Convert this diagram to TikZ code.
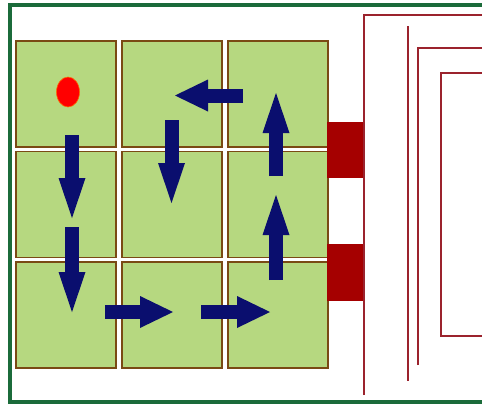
\documentclass[tikz,border=0pt]{standalone}
\usetikzlibrary{arrows.meta}
\definecolor{framegreen}{RGB}{27,107,58}
\definecolor{cellgreen}{RGB}{182,216,128}
\definecolor{cellbrown}{RGB}{122,74,20}
\definecolor{navy}{RGB}{10,14,110}
\definecolor{portred}{RGB}{165,0,0}
\definecolor{wirered}{RGB}{155,35,45}
\tikzset{>=latex}
\tikzset{
    varrow/.style={navy, line width=14pt, -{Triangle[length=40pt,width=27pt,line width=0pt]}},
    harrow/.style={navy, line width=14pt, -{Triangle[length=33pt,width=32pt,line width=0pt]}},
    wire/.style={wirered, line width=1.3pt}
}

\begin{document}
\begin{tikzpicture}[x=1pt,y=-1pt]
    \useasboundingbox (0,0) rectangle (482,405);

    \draw[framegreen, line width=4pt] (482,5) -- (10,5) -- (10,402) -- (482,402);

    
    \foreach \i in {0,1,2}
    {
        \foreach \j in {0,1,2}
        {
            \draw[fill=cellgreen, draw=cellbrown, line width=1.5pt] (16+106*\i,41+110.5*\j) rectangle ++(100,106);
        }
    }

    \draw[fill=red, draw=orange!80!red, line width=0.6pt] (68,92) ellipse [x radius=11.5, y radius=15];

    
    \draw[varrow] (72,135) -- (72,218);
    \draw[varrow] (72,227) -- (72,312);
    \draw[harrow] (105,312) -- (173,312);
    \draw[harrow] (201,312) -- (270,312);
    \draw[varrow] (276,280) -- (276,195);
    \draw[varrow] (276,176) -- (276,93);
    \draw[harrow] (243,95.5) -- (175,95.5);
    \draw[varrow] (171.5,120) -- (171.5,203);

    
    \fill[portred] (327,122) rectangle (364,178);
    \fill[portred] (327,244) rectangle (364,301);

    \draw[wire] (364,395) -- (364,15) -- (482,15);
    \draw[wire] (408,26) -- (408,381);
    \draw[wire] (418,365) -- (418,48) -- (482,48);
    \draw[wire] (482,73) -- (441,73) -- (441,336) -- (482,336);

\end{tikzpicture}
\end{document}
